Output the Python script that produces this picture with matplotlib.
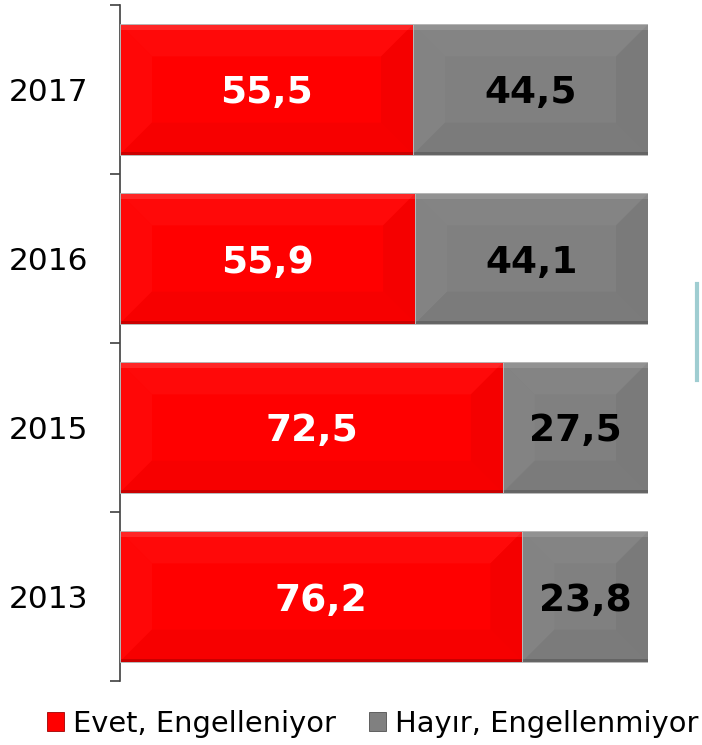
import matplotlib
matplotlib.use('Agg')
import matplotlib.pyplot as plt
from matplotlib.patches import Polygon, Rectangle
from matplotlib.lines import Line2D

years = ['2013', '2015', '2016', '2017']
evet = [76.2, 72.5, 55.9, 55.5]
hayir = [23.8, 27.5, 44.1, 44.5]
legend_labels = ['Evet, Engelleniyor', 'Hayır, Engellenmiyor']

RED = '#ff0000'
GREY = '#808080'

W, H = 702, 745
fig = plt.figure(figsize=(W / 100, H / 100), dpi=100)
ax = fig.add_axes([120 / W, 1 - 681 / H, 528 / W, 676 / H])

ypos = list(range(len(years)))
bh = 0.77
b1 = ax.barh(ypos, evet, height=bh, color=RED, lw=0, zorder=2)
b2 = ax.barh(ypos, hayir, left=evet, height=bh, color=GREY, lw=0, zorder=2)
ax.set_xlim(0, 100)
ax.set_ylim(-0.5, len(years) - 0.5)

# subtle bevel effect
px_x = 100 / 528
px_y = len(years) / 676
inset = 32
for bars in (b1, b2):
    for r in bars:
        x0, y0, w, h = r.get_x(), r.get_y(), r.get_width(), r.get_height()
        x1, y1 = x0 + w, y0 + h
        ix = min(inset * px_x, w / 2)
        iy = min(inset * px_y, h / 2)
        faces = [
            ([(x0, y1), (x1, y1), (x1 - ix, y1 - iy), (x0 + ix, y1 - iy)], 'white', 0.04),
            ([(x0, y0), (x0, y1), (x0 + ix, y1 - iy), (x0 + ix, y0 + iy)], 'white', 0.03),
            ([(x1, y0), (x1, y1), (x1 - ix, y1 - iy), (x1 - ix, y0 + iy)], 'black', 0.04),
            ([(x0, y0), (x1, y0), (x1 - ix, y0 + iy), (x0 + ix, y0 + iy)], 'black', 0.03),
        ]
        for pts, c, a in faces:
            ax.add_patch(Polygon(pts, closed=True, facecolor=c, alpha=a, lw=0, zorder=3))
        # edge highlights
        ax.add_patch(Rectangle((x0, y1 - 6 * px_y), w, 6 * px_y, facecolor='white', alpha=0.12, lw=0, zorder=3))
        ax.add_patch(Rectangle((x0, y0), w, 3 * px_y, facecolor='black', alpha=0.18, lw=0, zorder=3))
        ax.add_patch(Rectangle((x0, y0), w, h, facecolor='none', edgecolor='#b8b8b8', lw=0.7, zorder=4))

# value labels
for i in ypos:
    ax.text(evet[i] / 2, i, f'{evet[i]:.1f}'.replace('.', ','), ha='center', va='center_baseline',
            color='white', fontsize=27, fontweight='bold', zorder=5)
    ax.text(evet[i] + hayir[i] / 2, i, f'{hayir[i]:.1f}'.replace('.', ','), ha='center', va='center_baseline',
            color='black', fontsize=27, fontweight='bold', zorder=5)

# axes styling
for s in ('top', 'right', 'bottom'):
    ax.spines[s].set_visible(False)
ax.spines['left'].set_color('#404040')
ax.spines['left'].set_linewidth(1.2)
ax.set_xticks([])
ax.set_yticks([y - 0.5 for y in range(len(years) + 1)])
ax.set_yticklabels([])
ax.tick_params(axis='y', which='major', length=7.5, width=1.2, color='#404040', direction='out')
ax.set_yticks(ypos, minor=True)
ax.set_yticklabels(years, minor=True, fontsize=22.5)
ax.tick_params(axis='y', which='minor', length=0, pad=23)

# legend
handles = [Rectangle((0, 0), 1, 1, facecolor=RED, edgecolor='#a00000', lw=0.6),
           Rectangle((0, 0), 1, 1, facecolor=GREY, edgecolor='#505050', lw=0.6)]
fig.legend(handles, legend_labels, loc='center', bbox_to_anchor=(373 / W, 1 - 724 / H),
           ncol=2, frameon=False, fontsize=20.8, handlelength=0.58, handleheight=0.65,
           handletextpad=0.32, columnspacing=1.15, borderpad=0)

# stray decorative line
fig.add_artist(Line2D([697 / W, 697 / W], [1 - 284 / H, 1 - 380 / H], color='#9fcdd1',
                      lw=3, transform=fig.transFigure))

fig.savefig('out.png', dpi=100)
